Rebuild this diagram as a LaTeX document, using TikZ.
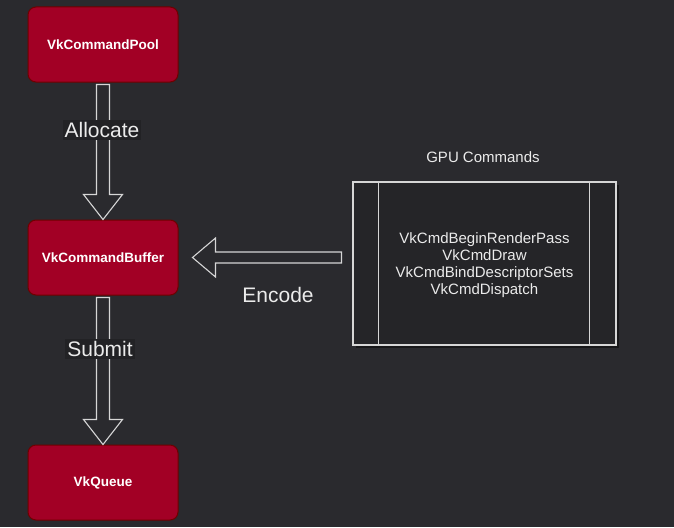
\documentclass[tikz,border=0pt]{standalone}
\usepackage{fontspec}
\setmainfont{Liberation Sans}
\usetikzlibrary{calc,shadows}
\definecolor{bgc}{HTML}{2A2A2E}
\definecolor{lblbg}{HTML}{222225}
\definecolor{boxred}{HTML}{A20025}
\definecolor{boxedge}{HTML}{6F0000}
\definecolor{linec}{HTML}{D6D6D6}
\definecolor{gpufill}{HTML}{252528}
\tikzset{
  vkbox/.style={draw=boxedge, fill=boxred, line width=1pt, rounded corners=8pt,
    minimum width=150pt, minimum height=75pt, text=white, font=\bfseries\fontsize{13.5}{16}\selectfont},
  barrow/.style={draw=linec, fill=bgc, line width=1.1pt, line join=miter},
  lbl/.style={fill=lblbg, text=white!92!black, inner sep=2pt, font=\fontsize{21}{24}\selectfont},
  procbox/.style={draw=linec, fill=gpufill, line width=1.1pt, minimum width=263pt, minimum height=163pt,
    drop shadow={shadow xshift=3pt, shadow yshift=-3pt, fill=black, opacity=0.45}},
  gputext/.style={text=white!92!black, align=center, font=\fontsize{15}{17}\selectfont}
}
\begin{document}
\begin{tikzpicture}[x=1pt,y=-1pt]
\fill[bgc] (0,0) rectangle (674,527);
\useasboundingbox (0,0) rectangle (674,527);

\node[vkbox] (pool) at (103,44.5) {VkCommandPool};
\node[vkbox] (buf) at (103,257.5) {VkCommandBuffer};
\node[vkbox] (queue) at (103,482.5) {VkQueue};

\node[procbox] (gpu) at (484.5,263.5) {};
\draw[linec, line width=1.1pt] ($(gpu.north west)+(26,0)$) -- ($(gpu.south west)+(26,0)$);
\draw[linec, line width=1.1pt] ($(gpu.north east)+(-27,0)$) -- ($(gpu.south east)+(-27,0)$);
\node[gputext] (cmds) at ($(gpu.center)+(0,2)$) {VkCmdBeginRenderPass\\VkCmdDraw\\VkCmdBindDescriptorSets\\VkCmdDispatch};
\node[gputext, anchor=base] (title) at ($(gpu.north)+(-1.5,-19)$) {GPU Commands};

% Allocate arrow
\draw[barrow] ($(pool.south)+(-6.5,2)$) -- ($(buf.north)+(-6.5,-25)$) -- ($(buf.north)+(-19.5,-25)$)
  -- (buf.north) -- ($(buf.north)+(19.5,-25)$) -- ($(buf.north)+(6.5,-25)$) -- ($(pool.south)+(6.5,2)$) -- cycle;
% Submit arrow
\draw[barrow] ($(buf.south)+(-6.5,2)$) -- ($(queue.north)+(-6.5,-25)$) -- ($(queue.north)+(-19.5,-25)$)
  -- (queue.north) -- ($(queue.north)+(19.5,-25)$) -- ($(queue.north)+(6.5,-25)$) -- ($(buf.south)+(6.5,2)$) -- cycle;
% Encode arrow
\draw[barrow] ($(gpu.west)+(-11,-5.5-6)$) -- ($(buf.east)+(37,-5.5)$) -- ($(buf.east)+(37,-19.5)$)
  -- ($(buf.east)+(14,0)$) -- ($(buf.east)+(37,19.5)$) -- ($(buf.east)+(37,5.5)$) -- ($(gpu.west)+(-11,5.5-6)$) -- cycle;

\node[lbl] (alloc) at (102,130) {Allocate};
\node[lbl] (submit) at (100,349) {Submit};
\node[text=white!92!black, font=\fontsize{21}{24}\selectfont] (encode) at (278,295) {Encode};
\end{tikzpicture}
\end{document}
